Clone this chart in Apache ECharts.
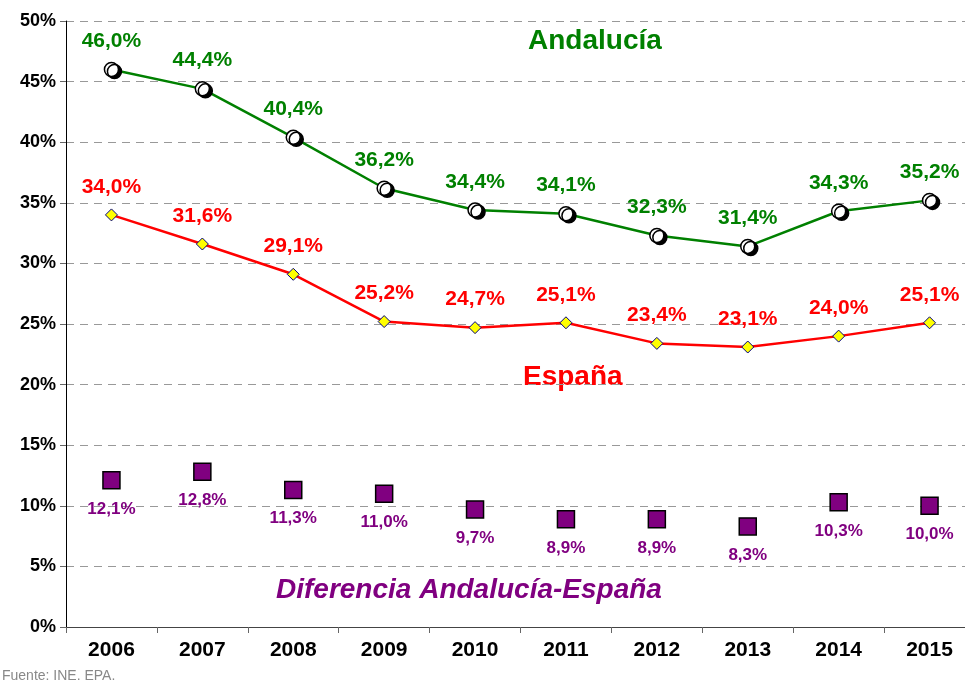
<!DOCTYPE html>
<html>
<head>
<meta charset="utf-8">
<script src="https://cdn.jsdelivr.net/npm/echarts@6/dist/echarts.min.js"></script>
<style>
  html, body { margin: 0; padding: 0; background: #fff; overflow: hidden; }
  /* the plot runs a little past the right edge of the picture */
  #chart { width: 975px; height: 684px; }
</style>
</head>
<body>
<div id="chart"></div>
<script>
const years = ['2006', '2007', '2008', '2009', '2010', '2011', '2012', '2013', '2014', '2015'];
const andalucia = [46.0, 44.4, 40.4, 36.2, 34.4, 34.1, 32.3, 31.4, 34.3, 35.2];
const espana = [34.0, 31.6, 29.1, 25.2, 24.7, 25.1, 23.4, 23.1, 24.0, 25.1];
const diferencia = [12.1, 12.8, 11.3, 11.0, 9.7, 8.9, 8.9, 8.3, 10.3, 10.0];

const font = 'Liberation Sans, Arial, sans-serif';
const pct = p => p.value.toFixed(1).replace('.', ',') + '%';

const chart = echarts.init(document.getElementById('chart'));

chart.setOption({
  animation: false,
  grid: { left: 66, right: 0, top: 21, bottom: 57 },
  xAxis: {
    type: 'category',
    data: years,
    boundaryGap: true,
    axisLine: { lineStyle: { color: '#444', width: 1 } },
    axisTick: { show: true, length: 6, lineStyle: { color: '#666' } },
    axisLabel: { color: '#000', fontFamily: font, fontWeight: 'bold', fontSize: 21, margin: 13 },
    splitLine: { show: false }
  },
  yAxis: {
    type: 'value',
    min: 0,
    max: 50,
    interval: 5,
    axisLine: { show: true, lineStyle: { color: '#000', width: 1 } },
    axisTick: { show: true, length: 6, lineStyle: { color: '#666' } },
    axisLabel: { formatter: '{value}%', color: '#000', fontFamily: font, fontWeight: 'bold', fontSize: 18, margin: 10 },
    splitLine: { show: true, lineStyle: { color: '#999', type: [8, 6], width: 1 } }
  },
  series: [
    {
      name: 'Andalucía',
      type: 'line',
      data: andalucia,
      symbol: 'circle',
      symbolSize: 14,
      lineStyle: { color: '#008000', width: 2.5 },
      itemStyle: {
        color: '#fff', borderColor: '#000', borderWidth: 1.5,
        shadowColor: '#000', shadowOffsetX: 3, shadowOffsetY: 2, shadowBlur: 0
      },
      label: {
        show: true, position: 'top', distance: 10, formatter: pct,
        color: '#008000', fontFamily: font, fontWeight: 'bold', fontSize: 21
      },
      z: 3
    },
    {
      name: 'España',
      type: 'line',
      data: espana,
      symbol: 'diamond',
      symbolSize: 12,
      lineStyle: { color: '#ff0000', width: 2.5 },
      itemStyle: { color: '#ffff00', borderColor: '#000080', borderWidth: 1 },
      label: {
        show: true, position: 'top', distance: 11, formatter: pct,
        color: '#ff0000', fontFamily: font, fontWeight: 'bold', fontSize: 21
      },
      z: 2
    },
    {
      name: 'Diferencia',
      type: 'scatter',
      data: diferencia,
      symbol: 'rect',
      symbolSize: 17,
      itemStyle: { color: '#800080', opacity: 1, borderColor: '#000', borderWidth: 1.5 },
      label: {
        show: true, position: 'bottom', distance: 11, formatter: pct,
        color: '#800080', fontFamily: font, fontWeight: 'bold', fontSize: 17
      }
    }
  ],
  graphic: [
    {
      type: 'text', left: 528, top: 27,
      style: { text: 'Andalucía', fill: '#008000', font: 'bold 28px ' + font }
    },
    {
      type: 'text', left: 523, top: 363,
      style: { text: 'España', fill: '#ff0000', font: 'bold 28px ' + font }
    },
    {
      type: 'text', left: 276, top: 576,
      style: { text: 'Diferencia Andalucía-España', fill: '#800080', font: 'italic bold 28px ' + font }
    },
    {
      type: 'text', left: 2, top: 669,
      style: { text: 'Fuente: INE. EPA.', fill: '#888', font: '14px ' + font }
    }
  ]
});
</script>
</body>
</html>
